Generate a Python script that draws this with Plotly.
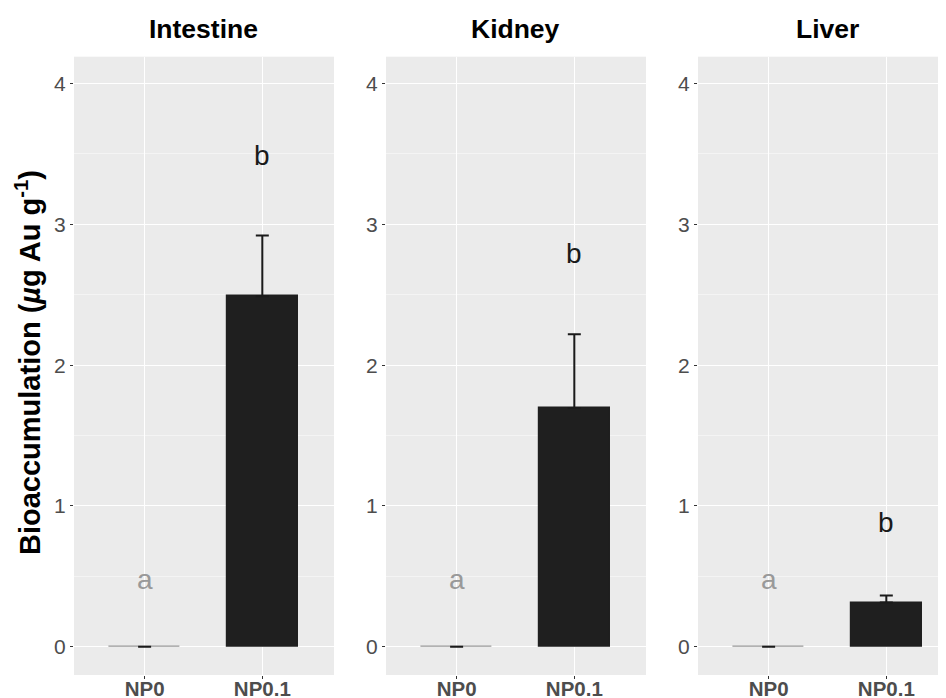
import plotly.graph_objects as go

tissues = ["Intestine", "Kidney", "Liver"]
groups = ["NP0", "NP0.1"]
means = {"Intestine": [0.0, 2.49], "Kidney": [0.0, 1.695], "Liver": [0.0, 0.315]}
se = {"Intestine": [0.0, 0.43], "Kidney": [0.0, 0.525], "Liver": [0.0, 0.05]}
letters = {"Intestine": ["a", "b"], "Kidney": ["a", "b"], "Liver": ["a", "b"]}
letter_y = {"Intestine": [0.48, 3.49], "Kidney": [0.48, 2.79], "Liver": [0.48, 0.88]}
yticks = [0, 1, 2, 3, 4]

W, H = 946, 698
OFF = 8  # page body margin offset
px_unit = 117.7
panels_px = [(74, 334), (386, 646), (698, 957)]
ytop, ybot = 56.7, 675
y_range = [-0.2, 4.19]
FONT = "Liberation Sans, Arial, sans-serif"

fig = go.Figure()
bar_colors = ["#999999", "#1f1f1f"]
letter_colors = ["#999999", "#1a1a1a"]

for i, t in enumerate(tissues):
    ax = "" if i == 0 else str(i + 1)
    xa, ya = "x" + ax, "y" + ax
    fig.add_trace(go.Bar(
        x=[1, 2], y=means[t], xaxis=xa, yaxis=ya, width=0.6,
        marker=dict(color=bar_colors, line=dict(color=bar_colors, width=1.2)),
        error_y=dict(type="data", array=se[t], arrayminus=[0, 0], symmetric=False,
                     color="#1a1a1a", thickness=2, width=6.5, visible=True),
        showlegend=False, hoverinfo="skip"))
    for j in range(2):
        fig.add_annotation(x=j + 1, y=letter_y[t][j], xref=xa, yref=ya, text=letters[t][j],
                           showarrow=False, xanchor="center", yanchor="middle",
                           font=dict(size=28, color=letter_colors[j], family=FONT))
    x0, x1 = panels_px[i]
    fx0, fx1 = x0 - OFF, min(x1 - OFF, W)
    dom = [fx0 / W, fx1 / W]
    xr = [0.4, 0.4 + (fx1 - fx0) / px_unit]
    fig.layout["xaxis" + ax] = dict(
        domain=dom, range=xr, tickvals=[1, 2], ticktext=["<b>%s</b>" % g for g in groups], anchor=ya,
        showgrid=True, gridcolor="white", gridwidth=1.3, zeroline=False,
        ticks="outside", ticklen=3, tickcolor="#333333", ticklabelstandoff=-8,
        tickfont=dict(size=20.5, color="#4d4d4d", family=FONT),
        showline=False, fixedrange=True, automargin=False)
    fig.layout["yaxis" + ax] = dict(
        domain=[1 - (ybot - OFF) / H, 1 - (ytop - OFF) / H], range=y_range, tickvals=yticks, anchor=xa,
        showgrid=True, gridcolor="white", gridwidth=1.3, zeroline=False,
        minor=dict(dtick=0.5, tick0=0.5, showgrid=True, gridcolor="#f4f4f4", gridwidth=0.7, ticks=""),
        ticks="outside", ticklen=3, tickcolor="#333333",
        tickfont=dict(size=21, color="#4d4d4d", family=FONT),
        showline=False, fixedrange=True, automargin=False)
    fig.add_annotation(x=((x0 + (x0 + 259)) / 2 - OFF) / W,
                       y=1 - (29 - OFF) / H, xanchor="center", yanchor="middle",
                       xref="paper", yref="paper", text="<b>%s</b>" % t, showarrow=False,
                       font=dict(size=26.5, color="black", family=FONT))

fig.add_annotation(x=(28 - OFF) / W, y=1 - (363 - OFF) / H, xref="paper", yref="paper",
                   xanchor="center", yanchor="middle",
                   text="<b>Bioaccumulation (<i>µ</i>g Au g<sup>-1</sup>)</b>", textangle=-90,
                   showarrow=False, font=dict(size=29, color="black", family=FONT))

fig.update_layout(
    width=W, height=H, margin=dict(l=0, r=0, t=0, b=0),
    paper_bgcolor="white", plot_bgcolor="#ebebeb", bargap=0, showlegend=False)

fig.write_html("out.html")
